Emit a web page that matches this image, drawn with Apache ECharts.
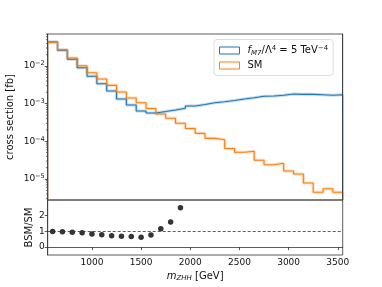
<!DOCTYPE html>
<html><head><meta charset="utf-8">
<script src="https://cdn.jsdelivr.net/npm/echarts@6/dist/echarts.min.js"></script>
<style>html,body{margin:0;padding:0;background:#fff}#c{width:382px;height:287px}</style>
</head><body><div id="c"></div>
<script>
// ---- data ----
const binEdges = [550,650,750,850,950,1050,1150,1250,1350,1450,1550,1650,1750,1850,1950,2050,2150,2250,2350,2450,2550,2650,2750,2850,2950,3050,3150,3250,3350,3450,3550];
const bsmValues = [0.0434,0.0261,0.0151,0.00901,0.00533,0.00339,0.00217,0.00133,0.000923,0.000639,0.000565,0.000619,0.000679,0.000753,0.000867,0.000951,0.001055,0.00112,0.00121,0.00133,0.00143,0.00157,0.0016,0.00168,0.00181,0.00177,0.00177,0.00173,0.00167,0.00172];
const smValues = [0.0426,0.0271,0.0163,0.0102,0.00664,0.00452,0.00307,0.00204,0.00142,0.00106,0.000745,0.000532,0.000409,0.000301,0.000219,0.000163,0.000120,0.000110,0.0000646,0.0000512,0.0000544,0.0000314,0.0000240,0.0000261,0.0000163,0.0000136,0.00000784,0.00000444,0.00000553,0.00000444];
const ratioMass = [600,700,800,900,1000,1100,1200,1300,1400,1500,1600,1700,1800,1900];
const ratioValues = [1.0,0.98,0.95,0.92,0.83,0.79,0.72,0.70,0.68,0.63,0.78,1.17,1.6,2.5];
const yTickValues = [1e-5,1e-4,1e-3,1e-2];
const xTickValues = [1000,1500,2000,2500,3000,3500];
const ratioTickValues = [0,1,2];

const X_MIN = 550, X_MAX = 3550;
const Y_MIN = 2.77e-6, Y_MAX = 0.0708;
const R_MIN = -0.5, R_MAX = 3;
const BLUE = '#1f77b4', ORANGE = '#ff7f0e', INK = '#111', AX = '#333';

const minorTicks = [];
for (let e = -6; e <= -1; e++) for (let m = 2; m <= 9; m++) {
  const v = m * Math.pow(10, e);
  if (v > Y_MIN && v < Y_MAX) minorTicks.push(v);
}

function stepData(vals, drops) {
  const d = [];
  if (drops) d.push([binEdges[0], Y_MIN]);
  vals.forEach((v, i) => d.push([binEdges[i], v]));
  d.push([binEdges[vals.length], vals[vals.length - 1]]);
  if (drops) d.push([binEdges[vals.length], Y_MIN]);
  return d;
}

const legendNames = {
  bsm: '{i|f}{sub|M7}{n|/Λ}{sup|4}{n| = 5 TeV}{sup|−4}',
  sm: '{n|SM}'
};

const chart = echarts.init(document.getElementById('c'), null, {renderer: 'canvas'});
chart.setOption({
  animation: false,
  backgroundColor: '#fff',
  grid: [
    {left: 47.7, top: 34, width: 295, height: 166, show: true, borderColor: AX, borderWidth: 0.8,
     backgroundColor: 'transparent', containLabel: false, outerBoundsMode: 'none'},
    {left: 47.7, top: 200, width: 295, height: 55, show: true, borderColor: AX, borderWidth: 0.8,
     backgroundColor: 'transparent', containLabel: false, outerBoundsMode: 'none'}
  ],
  legend: {
    orient: 'vertical', left: 214, top: 39.5,
    padding: [5, 5, 5, 5], itemGap: 4, itemWidth: 20, itemHeight: 7,
    backgroundColor: 'rgba(255,255,255,0.85)', borderColor: '#d4d4d4', borderWidth: 0.8, borderRadius: 3,
    data: [
      {name: 'bsm', icon: 'rect', itemStyle: {color: 'rgba(0,0,0,0)', borderColor: BLUE, borderWidth: 1}},
      {name: 'sm', icon: 'rect', itemStyle: {color: 'rgba(0,0,0,0)', borderColor: ORANGE, borderWidth: 1}}
    ],
    formatter: n => legendNames[n],
    textStyle: {
      padding: [0, 0, 0, 3],
      rich: {
        n: {fontSize: 10, lineHeight: 12, color: INK, fontFamily: 'DejaVu Sans'},
        i: {fontSize: 10, lineHeight: 12, color: INK, fontStyle: 'italic', fontFamily: 'DejaVu Sans'},
        sub: {fontSize: 7, lineHeight: 6, verticalAlign: 'bottom', color: INK, fontStyle: 'italic', fontFamily: 'DejaVu Sans'},
        sup: {fontSize: 7, lineHeight: 6, verticalAlign: 'top', color: INK, fontFamily: 'DejaVu Sans'}
      }
    }
  },
  xAxis: [
    {type: 'value', gridIndex: 0, min: X_MIN, max: X_MAX,
     axisLine: {show: false}, axisTick: {show: false}, axisLabel: {show: false}, splitLine: {show: false}},
    {type: 'value', gridIndex: 1, min: X_MIN, max: X_MAX,
     axisLine: {show: true, lineStyle: {color: AX, width: 0.8}},
     axisTick: {show: true, length: 3, lineStyle: {color: AX, width: 0.8}, customValues: xTickValues},
     axisLabel: {customValues: xTickValues, fontSize: 9, margin: 3, color: INK, fontFamily: 'DejaVu Sans',
       formatter: v => String(v)},
     splitLine: {show: false},
     name: '{i|m}{sub|ZHH}{n| [GeV]}', nameLocation: 'middle', nameGap: 15, nameMoveOverlap: false,
     nameTextStyle: {rich: {
       n: {fontSize: 10, lineHeight: 12, color: INK, fontFamily: 'DejaVu Sans'},
       i: {fontSize: 10, lineHeight: 12, color: INK, fontStyle: 'italic', fontFamily: 'DejaVu Sans'},
       sub: {fontSize: 7, lineHeight: 6, verticalAlign: 'bottom', color: INK, fontStyle: 'italic', fontFamily: 'DejaVu Sans'}
     }}}
  ],
  yAxis: [
    {type: 'log', gridIndex: 0, min: Y_MIN, max: Y_MAX, logBase: 10, z: 10,
     axisLine: {show: true, lineStyle: {color: AX, width: 0.8}},
     axisTick: {show: true, length: 3, lineStyle: {color: AX, width: 0.8}, customValues: yTickValues},
     axisLabel: {customValues: yTickValues, margin: 3, color: INK,
       formatter: v => '{b|10}{s|−' + Math.abs(Math.round(Math.log10(v))) + '}',
       rich: {
         b: {fontSize: 9, lineHeight: 12, color: INK, fontFamily: 'DejaVu Sans'},
         s: {fontSize: 6.5, lineHeight: 5, verticalAlign: 'top', color: INK, fontFamily: 'DejaVu Sans'}
       }},
     splitLine: {show: false},
     name: 'cross section [fb]', nameLocation: 'middle', nameGap: 32, nameMoveOverlap: false,
     nameTextStyle: {fontSize: 10, color: INK, fontFamily: 'DejaVu Sans'}},
    {type: 'value', gridIndex: 1, min: R_MIN, max: R_MAX,
     axisLine: {show: true, lineStyle: {color: AX, width: 0.8}},
     axisTick: {show: true, length: 3, lineStyle: {color: AX, width: 0.8}, customValues: ratioTickValues},
     axisLabel: {customValues: ratioTickValues, fontSize: 9, margin: 3, color: INK, fontFamily: 'DejaVu Sans'},
     splitLine: {show: false},
     name: 'BSM/SM', nameLocation: 'middle', nameGap: 13, nameMoveOverlap: false,
     nameTextStyle: {fontSize: 10, color: INK, fontFamily: 'DejaVu Sans'}},
    {type: 'log', gridIndex: 0, position: 'right', min: Y_MIN, max: Y_MAX, logBase: 10, z: 10,
     axisLine: {show: true, lineStyle: {color: AX, width: 0.8}},
     axisTick: {show: false}, axisLabel: {show: false}, splitLine: {show: false}}
  ],
  series: [
    {name: 'bsm_band', type: 'line', xAxisIndex: 0, yAxisIndex: 0, step: 'end', data: stepData(bsmValues, false),
     showSymbol: false, silent: true, lineStyle: {color: BLUE, width: 3, opacity: 0.28}, z: 2},
    {name: 'sm_band', type: 'line', xAxisIndex: 0, yAxisIndex: 0, step: 'end', data: stepData(smValues, false),
     showSymbol: false, silent: true, lineStyle: {color: ORANGE, width: 3, opacity: 0.28}, z: 2},
    {name: 'bsm', type: 'line', xAxisIndex: 0, yAxisIndex: 0, step: 'end', data: stepData(bsmValues, true),
     showSymbol: false, color: BLUE, lineStyle: {color: BLUE, width: 1.1}, z: 3},
    {name: 'sm', type: 'line', xAxisIndex: 0, yAxisIndex: 0, step: 'end', data: stepData(smValues, true),
     showSymbol: false, color: ORANGE, lineStyle: {color: ORANGE, width: 1.1}, z: 3},
    {name: 'minorTicks', type: 'custom', xAxisIndex: 0, yAxisIndex: 0, silent: true, clip: false,
     data: minorTicks.map(v => [X_MIN, v]),
     renderItem: (params, api) => {
       const p = api.coord([X_MIN, api.value(1)]);
       return {type: 'line', shape: {x1: p[0] - 1.8, y1: p[1], x2: p[0], y2: p[1]}, style: {stroke: AX, lineWidth: 0.7}};
     }},
    {name: 'ratio', type: 'scatter', xAxisIndex: 1, yAxisIndex: 1,
     data: ratioMass.map((m, i) => [m, ratioValues[i]]),
     symbolSize: 5.5, itemStyle: {color: '#000'}, z: 4,
     markLine: {silent: true, symbol: ['none', 'none'], label: {show: false},
       lineStyle: {color: '#333', width: 0.8, type: [3, 2]}, data: [{yAxis: 1}]}}
  ]
});
</script></body></html>
